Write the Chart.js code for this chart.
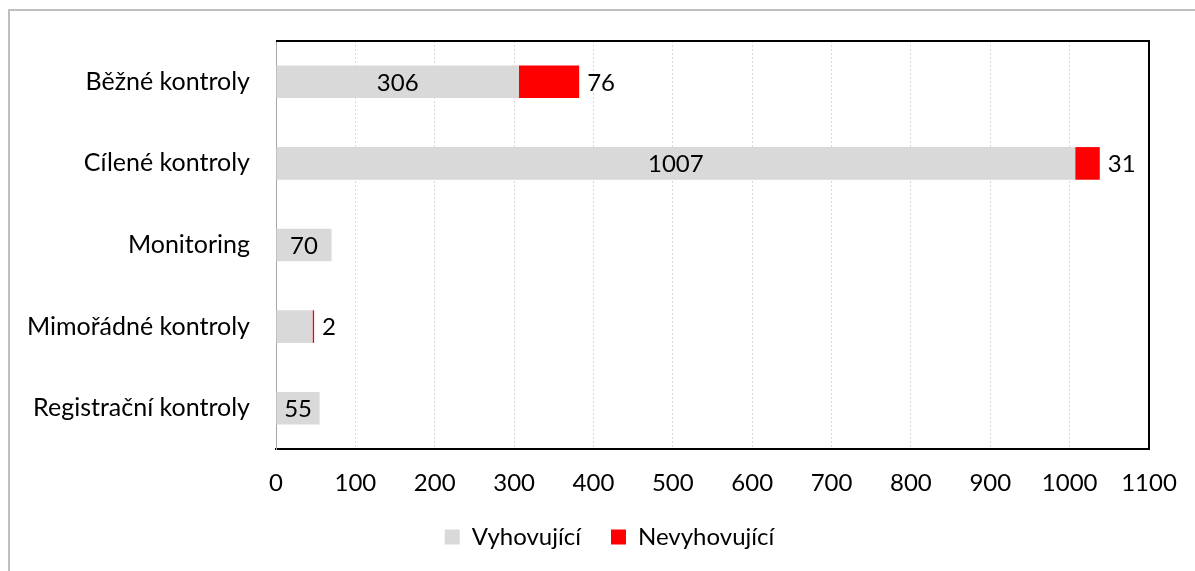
<!DOCTYPE html>
<html>
<head>
<meta charset="utf-8">
<script src="https://cdn.jsdelivr.net/npm/chart.js@4.4.1/dist/chart.umd.min.js"></script>
<style>
    html, body { margin: 0; padding: 0; background: #fff; }
    #frame {
        position: absolute;
        left: 8px;
        top: 9px;
        width: 1187px;
        height: 562px;
        border-top: 2px solid #bfbfbf;
        border-left: 2px solid #bfbfbf;
    }
    #wrap { position: absolute; left: 0; top: 0; width: 1195px; height: 571px; }
</style>
</head>
<body>
<div id="frame"></div>
<div id="wrap"><canvas id="chart"></canvas></div>
<script>
const categories = ['Běžné kontroly', 'Cílené kontroly', 'Monitoring', 'Mimořádné kontroly', 'Registrační kontroly']
const vyhovujici = [306, 1007, 70, 46, 55]
const nevyhovujici = [76, 31, null, 2, null]
const hiddenLabels = ['Mimořádné kontroly']
const xTicks = [0, 100, 200, 300, 400, 500, 600, 700, 800, 900, 1000, 1100]

const font = 'Lato'

// draws the value labels like the Excel original
const valueLabels = {
    id: 'valueLabels',
    afterDatasetsDraw(chart) {
        const ctx = chart.ctx
        ctx.save()
        ctx.font = `24px ${font}`
        ctx.fillStyle = '#000'
        ctx.textBaseline = 'middle'
        chart.data.datasets.forEach((ds, di) => {
            const meta = chart.getDatasetMeta(di)
            meta.data.forEach((bar, i) => {
                const v = ds.data[i]
                if (v == null) return
                if (di === 0) {
                    if (hiddenLabels.includes(categories[i])) return
                    ctx.textAlign = 'center'
                    ctx.fillText(v, (bar.x + bar.base) / 2, bar.y + 1)
                } else {
                    ctx.textAlign = 'left'
                    ctx.fillText(v, bar.x + 8, bar.y + 1)
                }
            })
        })
        ctx.restore()
    }
}

// black frame on top and right of the plot area, legend centred under the plot
const plotFrame = {
    id: 'plotFrame',
    afterLayout(chart) {
        chart.legend.left += 35
        chart.legend.right += 35
    },
    afterDraw(chart) {
        const a = chart.chartArea
        const ctx = chart.ctx
        ctx.save()
        ctx.strokeStyle = '#000'
        ctx.lineWidth = 2
        ctx.beginPath()
        ctx.moveTo(a.left, a.top)
        ctx.lineTo(a.right, a.top)
        ctx.lineTo(a.right, a.bottom)
        ctx.stroke()
        ctx.restore()
    }
}

new Chart(document.getElementById('chart'), {
    type: 'bar',
    data: {
        labels: categories,
        datasets: [
            {
                label: 'Vyhovující',
                data: vyhovujici,
                backgroundColor: '#d9d9d9',
                categoryPercentage: 1,
                barPercentage: 0.4
            },
            {
                label: 'Nevyhovující',
                data: nevyhovujici,
                backgroundColor: '#ff0000',
                categoryPercentage: 1,
                barPercentage: 0.4
            }
        ]
    },
    options: {
        indexAxis: 'y',
        responsive: true,
        maintainAspectRatio: false,
        animation: false,
        layout: { padding: { top: 37, right: 46, bottom: 12, left: 0 } },
        plugins: {
            tooltip: { enabled: false },
            legend: {
                position: 'bottom',
                labels: {
                    font: { family: font, size: 24 },
                    color: '#000',
                    boxWidth: 15,
                    boxHeight: 15,
                    padding: 30
                }
            }
        },
        scales: {
            x: {
                stacked: true,
                min: 0,
                max: 1100,
                afterBuildTicks(axis) {
                    axis.ticks = xTicks.map(v => ({ value: v }))
                },
                afterFit(axis) {
                    axis.height = 46
                    axis.paddingRight = 0
                },
                grid: { color: '#d9d9d9', drawTicks: false, lineWidth: 1 },
                border: { color: '#000', width: 2, dash: [2, 2] },
                ticks: {
                    color: '#000',
                    font: { family: font, size: 24 },
                    padding: 20,
                    callback: v => String(v)
                }
            },
            y: {
                stacked: true,
                afterFit(axis) { axis.width = 276 },
                grid: { display: false, drawTicks: false },
                border: { color: '#a6a6a6', width: 1 },
                ticks: { color: '#000', font: { family: font, size: 25 }, padding: 26 }
            }
        }
    },
    plugins: [valueLabels, plotFrame]
})
</script>
</body>
</html>
